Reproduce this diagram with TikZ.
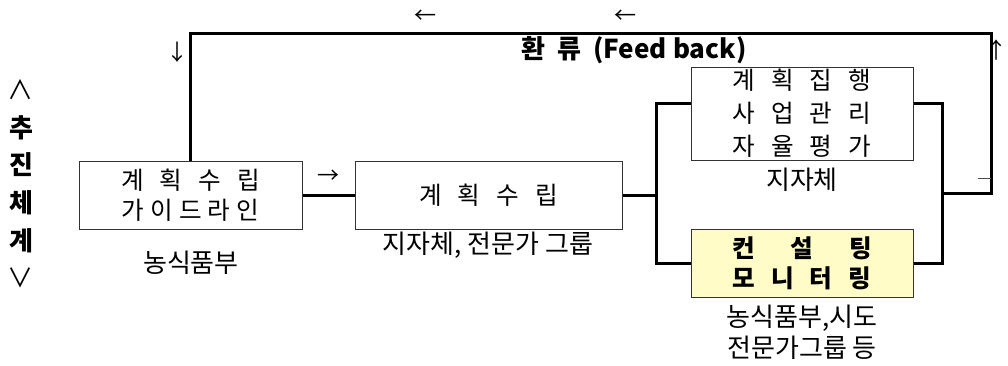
\documentclass[tikz,border=0pt]{standalone}
\usepackage{fontspec}
\setmainfont{Noto Sans CJK KR}
\usepackage{tikz}
\usetikzlibrary{positioning}

\begin{document}
\begin{tikzpicture}[
x=0.5pt, y=-0.5pt,
box/.style={draw=black!80, line width=0.5pt, minimum height=34pt, align=center, inner sep=0pt, font=\fontsize{12.3}{15}\selectfont},
note/.style={align=center, inner sep=0pt, font=\fontsize{13}{15.5}\selectfont},
glyph/.style={inner sep=0pt, font=\fontsize{11}{12}\selectfont},
link/.style={line width=1.5pt, black}
]
\useasboundingbox (0,0) rectangle (1008,365);

% boxes
\node[box, minimum width=111.5pt] (guide) at (190.5,195) {계\hspace{8pt}획\hspace{8pt}수\hspace{8pt}립\\가\hspace{3pt}이\hspace{3pt}드\hspace{3pt}라\hspace{3pt}인};
\node[box, minimum width=133.5pt] (plan) at (488.5,195) {계\hspace{8pt}획\hspace{8pt}수\hspace{8pt}립};
\node[box, minimum width=111pt, minimum height=46.5pt, font=\fontsize{12.3}{16.5}\selectfont] (exec) at (802,113.5) {계\hspace{8pt}획\hspace{8pt}집\hspace{8pt}행\\사\hspace{8pt}업\hspace{8pt}관\hspace{8pt}리\\자\hspace{8pt}율\hspace{8pt}평\hspace{8pt}가};
\node[box, minimum width=111pt, fill=yellow!22, font=\fontsize{12.3}{15}\selectfont\bfseries] (consult) at (802,263) {컨\hspace{18pt}설\hspace{18pt}팅\\모\hspace{8pt}니\hspace{8pt}터\hspace{8pt}링};

% labels under the boxes
\node[note] (guideby) at (191,263) {농식품부};
\node[note] (planby) at (488,245) {지자체, 전문가 그룹};
\node[note] (execby) at (802,180) {지자체};
\node[note] (consultby) at (802,332.5) {농식품부,시도\\전문가그룹 등};

% side label and feedback title
\node[note, font=\fontsize{13}{18.8}\selectfont] (axis) at (21,184) {∧\\\textbf{추}\\\textbf{진}\\\textbf{체}\\\textbf{계}\\∨};
\node[note, font=\fontsize{13}{15}\selectfont\bfseries] (fbtitle) at (634,50) {환\hspace{6pt}류\hspace{6pt}(Feed back)};

% arrow glyphs
\node[glyph] (arrL1) at (425,17) {←};
\node[glyph] (arrL2) at (625,17) {←};
\node[glyph] (arrR) at (328,177) {→};
\node[glyph] (arrD) at (177,52) {↓};
\node[glyph, anchor=east] (arrU) at (1008,50) {↑};

% connectors
\coordinate (splitT) at (656,103);
\coordinate (splitB) at (656,263);
\coordinate (split) at (656,195);
\coordinate (joinT) at (942,103);
\coordinate (joinB) at (942,263);
\coordinate (join) at (942,193);
\coordinate (back) at (991,193);
\coordinate (loopR) at (991,33);
\coordinate (tick) at (978,178);

\draw[link] (guide) -- (plan);
\draw[link] (plan.east |- split) -- (split);
\draw[link] (exec.west |- splitT) -- (splitT) -- (splitB) -- (consult.west);
\draw[link] (exec.east |- joinT) -- (joinT) -- (joinB) -- (consult.east);
\draw[link] (join) -- (back) -- (loopR) -| (guide.north);
\draw[line width=0.5pt, black!70] (tick) -- (tick -| back);
\end{tikzpicture}
\end{document}
